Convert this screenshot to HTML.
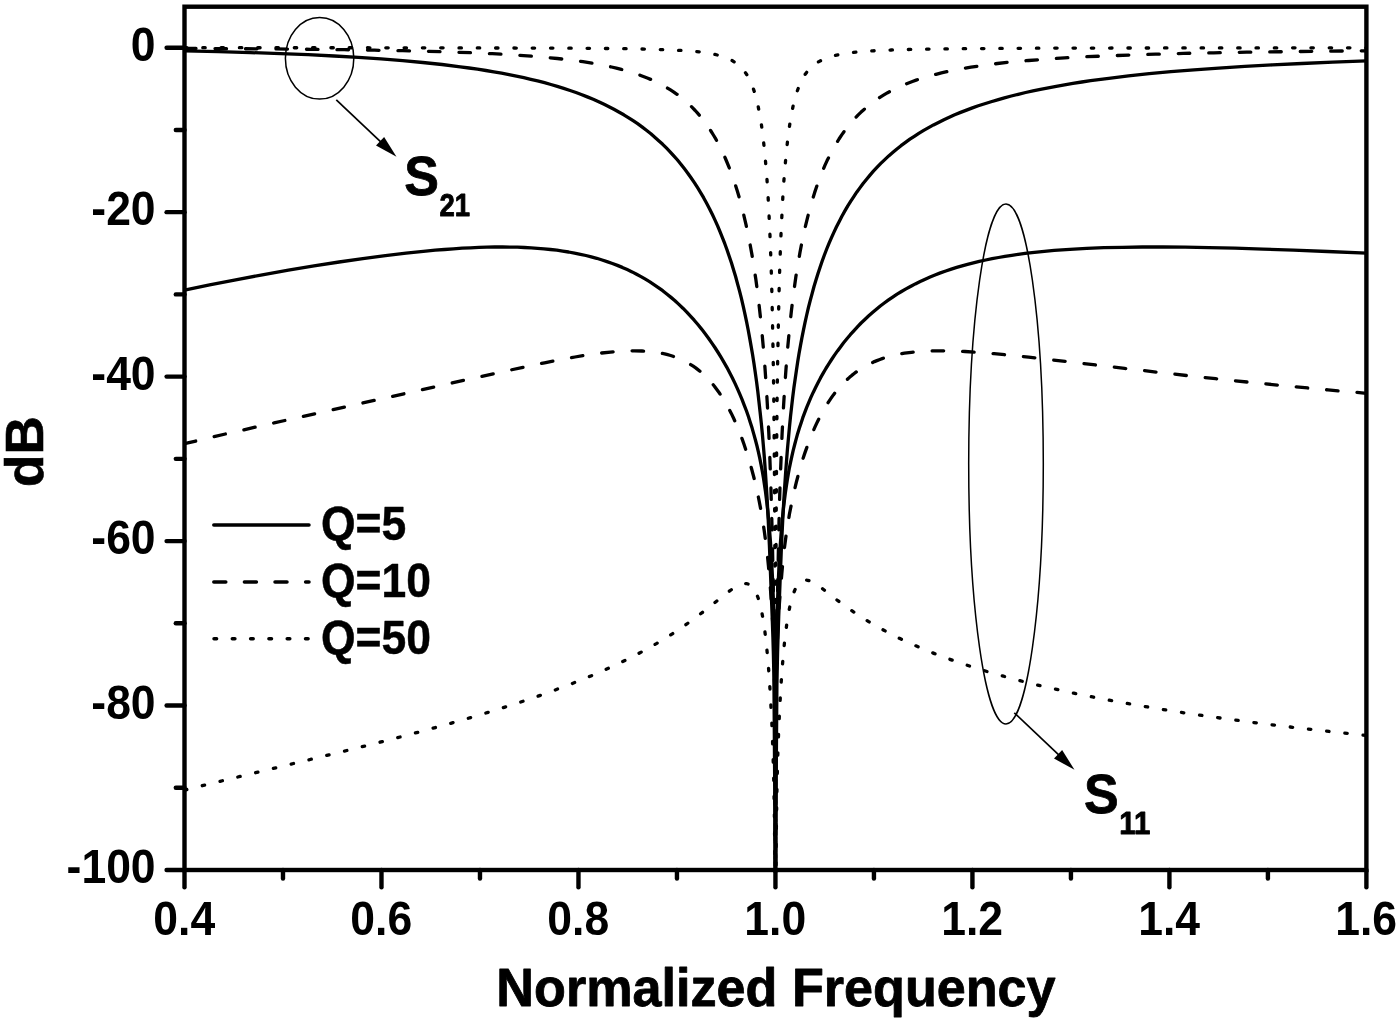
<!DOCTYPE html>
<html lang="en"><head><meta charset="utf-8"><title>Normalized Frequency response</title>
<style>html,body{margin:0;padding:0;background:#fff}body{width:1400px;height:1022px;overflow:hidden}svg{display:block}text{font-family:"Liberation Sans", sans-serif;font-weight:700;fill:#000}</style></head><body>
<svg width="1400" height="1022" viewBox="0 0 1400 1022" role="img" aria-label="S21 and S11 in dB versus normalized frequency for Q=5, 10 and 50">
<rect x="0" y="0" width="1400" height="1022" fill="#fff"/>
<defs><clipPath id="pc"><rect x="184.5" y="6.7" width="1181.9" height="865.5"/></clipPath></defs>
<g clip-path="url(#pc)" fill="none" stroke="#000" stroke-width="3.3" stroke-linecap="round" stroke-linejoin="round">
<path d="M184.5,50.8 218.5,51.6 250.5,52.6 280.5,53.6 308.1,54.7 334.2,56.0 358.3,57.4 381.0,58.9 402.7,60.7 422.8,62.5 442.1,64.5 460.3,66.8 469.1,68.0 477.5,69.2 485.9,70.5 493.8,71.8 501.6,73.2 509.0,74.6 516.4,76.1 523.8,77.7 530.7,79.3 537.6,80.9 544.5,82.7 550.9,84.5 557.3,86.4 563.7,88.4 570.1,90.5 576.0,92.5 581.9,94.7 587.3,96.9 593.2,99.3 598.7,101.7 604.1,104.3 609.0,106.7 613.9,109.3 618.8,112.0 623.8,114.8 628.7,117.8 633.1,120.7 637.6,123.7 642.0,126.9 646.4,130.3 650.9,133.8 654.8,137.2 658.7,140.7 662.7,144.3 666.6,148.2 670.1,151.8 674.0,156.1 677.5,160.0 680.9,164.2 684.3,168.6 687.8,173.2 691.2,178.0 694.7,183.1 697.6,187.7 700.6,192.6 703.6,197.7 706.5,203.0 709.5,208.7 712.4,214.6 714.9,219.9 717.5,225.6 720.0,231.7 722.3,237.4 724.8,243.7 727.0,249.7 729.2,256.3 731.5,263.0 733.6,269.9 735.6,276.5 737.5,283.6 739.5,290.9 741.4,298.4 743.2,306.1 744.9,313.9 746.6,321.9 748.2,330.0 749.6,337.6 751.1,346.1 752.6,354.8 754.0,363.7 755.3,372.8 756.6,382.0 757.8,391.5 758.9,401.3 760.1,412.0 761.3,423.1 762.4,434.5 763.4,446.2 764.4,458.2 765.3,470.5 767.0,496.4 768.2,519.5 769.4,545.2 772.2,617.5 772.9,637.0 773.4,654.4 773.8,672.5 774.0,686.6 774.2,714.6 774.8,799.0 775.1,902.9 775.8,902.9 776.1,797.0 776.4,752.1 776.7,711.5 776.9,685.3 777.2,669.8 777.6,651.8 778.1,634.6 778.7,616.7 781.5,544.9 782.7,520.6 783.9,498.6 785.6,473.0 787.4,449.7 789.4,427.7 790.5,416.7 791.6,406.9 792.7,397.2 793.9,387.8 796.4,370.4 797.7,361.7 799.0,353.8 800.5,345.4 801.9,337.9 803.5,329.9 805.0,322.7 806.7,315.0 808.4,307.6 810.2,300.7 812.1,293.6 814.0,286.5 815.9,280.2 818.0,273.5 820.0,267.4 822.2,261.0 824.3,255.2 826.7,249.0 829.1,243.1 831.6,237.4 834.1,231.9 836.5,226.8 839.5,220.9 841.9,216.2 844.9,210.9 847.8,205.9 850.8,201.1 853.8,196.6 856.7,192.2 859.7,188.1 863.1,183.5 866.6,179.2 870.0,175.1 873.4,171.2 877.4,166.9 880.8,163.4 884.8,159.6 888.7,155.9 892.7,152.5 896.6,149.2 901.0,145.7 905.5,142.4 909.9,139.2 914.3,136.3 918.8,133.4 923.7,130.4 928.6,127.6 933.5,124.9 938.5,122.4 943.9,119.7 949.3,117.2 954.7,114.8 960.6,112.4 966.5,110.1 972.4,107.9 978.3,105.8 984.7,103.7 991.1,101.7 997.5,99.8 1004.4,97.8 1011.3,96.0 1018.2,94.3 1025.6,92.5 1033.0,90.9 1040.4,89.3 1048.3,87.8 1056.2,86.3 1064.5,84.8 1072.9,83.4 1081.8,82.0 1090.6,80.7 1108.8,78.3 1128.5,75.9 1149.2,73.7 1170.9,71.7 1194.0,69.8 1218.7,68.1 1244.8,66.4 1272.3,64.9 1301.9,63.5 1332.9,62.2 1366.4,60.9"/>
<path d="M184.5,290.1 209.6,284.9 235.7,279.8 262.3,274.8 288.4,270.2 314.0,265.9 339.1,262.0 362.8,258.6 385.4,255.6 406.1,253.1 425.8,251.1 435.2,250.2 444.5,249.5 453.4,248.8 462.2,248.2 470.6,247.8 479.0,247.4 486.9,247.2 494.7,247.0 502.6,247.0 510.0,247.1 517.4,247.2 524.3,247.5 531.2,247.8 537.6,248.3 544.0,248.8 550.4,249.5 556.8,250.2 562.7,251.1 568.6,252.0 574.5,253.1 580.4,254.3 585.9,255.5 591.3,256.9 596.7,258.3 602.1,260.0 607.0,261.6 612.4,263.5 617.4,265.4 622.3,267.4 627.2,269.6 632.1,271.9 636.6,274.2 641.0,276.6 645.4,279.2 649.9,281.9 654.3,284.8 658.7,287.8 662.7,290.7 667.1,294.2 671.0,297.4 675.0,300.8 678.9,304.4 682.9,308.2 686.8,312.2 690.7,316.4 694.2,320.2 698.1,324.8 701.6,329.1 705.0,333.5 708.5,338.2 711.9,343.1 714.9,347.5 718.1,352.5 721.1,357.4 724.0,362.3 727.0,367.6 729.7,372.7 732.4,378.0 735.0,383.4 737.5,388.9 739.8,394.1 742.1,399.6 744.3,405.3 746.5,411.0 748.5,416.7 750.3,422.4 752.1,428.1 753.8,434.1 755.5,440.2 757.0,446.0 758.5,452.3 759.8,458.4 761.1,465.0 762.3,471.3 763.5,478.2 764.5,484.9 765.5,491.7 766.3,498.2 767.9,511.8 769.3,526.8 770.5,542.3 771.5,558.7 772.4,576.2 773.4,600.5 774.1,623.4 774.5,640.1 774.7,657.9 775.0,676.9 775.1,699.9 775.3,770.2 775.4,902.9 775.5,902.9 775.6,784.9 775.8,707.7 775.9,682.8 776.1,663.6 776.3,646.1 776.7,629.0 777.3,608.9 778.0,588.2 779.0,565.9 780.0,548.9 781.1,533.7 782.3,519.4 783.7,506.1 785.3,493.3 786.3,486.6 787.3,480.1 788.3,474.1 789.4,467.8 790.6,462.1 791.9,456.1 793.2,450.3 794.7,444.5 796.2,438.9 797.7,433.4 799.4,428.0 801.1,422.9 802.8,417.7 804.7,412.6 806.7,407.4 808.8,402.4 810.9,397.4 813.2,392.4 815.6,387.5 818.0,382.7 820.5,377.9 823.2,373.1 825.9,368.5 828.8,363.9 831.6,359.5 834.5,355.1 837.5,350.9 840.5,346.9 843.4,343.0 846.9,338.8 850.3,334.7 853.8,330.8 857.2,327.1 861.1,323.0 864.6,319.7 868.5,316.0 872.5,312.5 876.4,309.2 880.3,306.0 884.3,303.0 888.2,300.2 892.7,297.1 897.1,294.2 901.5,291.5 906.0,288.9 910.9,286.2 915.3,283.9 920.2,281.5 925.2,279.2 930.1,277.0 935.0,275.0 940.4,272.9 945.8,271.0 951.3,269.1 956.7,267.4 962.1,265.8 967.5,264.3 973.4,262.8 979.3,261.4 985.7,260.0 992.1,258.7 998.5,257.5 1004.9,256.4 1011.8,255.3 1018.2,254.3 1025.1,253.4 1032.0,252.6 1039.4,251.8 1054.2,250.4 1069.9,249.3 1086.7,248.4 1103.9,247.7 1122.6,247.3 1142.3,247.0 1163.0,247.0 1185.2,247.2 1208.8,247.6 1234.9,248.2 1263.0,249.1 1293.5,250.2 1327.5,251.5 1366.4,253.1"/>
<path d="M184.5,48.4 272.7,48.9 310.1,49.3 344.1,49.7 374.6,50.2 402.7,50.7 428.3,51.3 451.4,52.0 472.6,52.8 492.3,53.7 510.5,54.7 527.3,55.8 543.0,57.1 557.3,58.5 570.6,60.0 582.9,61.7 594.7,63.6 600.6,64.7 606.0,65.8 611.5,67.0 616.4,68.1 621.3,69.4 626.2,70.7 631.2,72.2 635.6,73.6 640.0,75.2 644.0,76.7 647.9,78.2 651.8,79.9 655.8,81.8 659.7,83.7 663.2,85.6 666.6,87.5 670.1,89.7 673.5,91.9 677.0,94.3 679.9,96.5 683.4,99.3 686.3,101.8 689.3,104.5 692.2,107.4 695.2,110.5 697.6,113.2 700.6,116.7 703.1,119.8 705.5,123.1 708.0,126.5 710.9,131.0 713.4,135.0 715.9,139.2 718.1,143.3 720.5,147.9 722.8,152.6 725.0,157.5 727.3,163.0 729.4,168.2 731.6,174.0 733.6,179.6 735.5,185.4 737.4,191.3 739.2,197.4 741.0,204.0 742.7,210.7 744.3,217.3 745.9,224.1 747.5,231.7 749.0,238.8 750.4,246.2 751.9,254.4 753.2,262.1 754.5,270.8 755.8,279.1 757.0,288.0 759.2,306.1 761.3,325.2 763.2,346.1 764.8,365.4 766.3,386.7 767.6,409.1 768.8,432.8 769.8,456.8 770.8,483.4 771.6,511.8 772.4,542.3 774.1,631.2 774.4,654.8 774.6,675.8 774.8,714.7 775.0,771.9 775.3,905.2 775.6,905.2 775.9,764.7 776.1,704.3 776.3,670.1 776.5,649.4 776.9,627.9 778.6,539.9 779.3,509.7 780.1,482.9 781.1,457.6 782.1,433.8 783.3,410.3 784.6,389.0 786.0,368.8 787.5,349.7 789.4,329.7 791.4,310.8 793.6,292.9 795.9,276.6 797.3,268.0 798.6,260.4 800.0,252.3 801.4,245.0 803.0,237.3 804.4,230.5 806.0,223.8 807.6,217.3 809.4,210.4 811.1,204.2 812.9,198.3 814.7,192.4 816.6,186.8 818.5,181.3 820.5,176.0 822.7,170.6 824.9,165.4 827.1,160.6 829.4,156.0 831.7,151.5 834.1,147.1 836.5,143.0 839.0,139.0 841.9,134.6 844.4,131.1 846.9,127.8 849.3,124.8 852.3,121.3 855.2,118.0 858.2,114.9 861.1,112.1 864.1,109.4 867.0,106.8 870.5,104.1 873.4,101.8 876.9,99.4 880.3,97.1 884.3,94.7 887.7,92.7 891.7,90.6 895.6,88.6 899.5,86.7 903.5,85.0 907.9,83.2 912.4,81.5 916.8,79.9 921.2,78.5 926.1,77.0 931.1,75.6 936.0,74.3 941.4,72.9 946.8,71.7 952.7,70.4 958.6,69.3 964.6,68.2 971.0,67.2 983.8,65.3 997.5,63.5 1012.3,61.9 1028.6,60.5 1045.8,59.1 1064.5,57.9 1084.7,56.8 1106.4,55.9 1130.0,55.0 1155.6,54.2 1183.2,53.4 1213.7,52.8 1246.7,52.2 1283.2,51.7 1323.1,51.2 1366.4,50.8" stroke-dasharray="11.5 19"/>
<path d="M184.5,443.7 204.2,439.0 225.4,434.0 274.1,422.9 471.6,378.6 504.1,371.4 532.7,365.2 544.5,362.8 555.3,360.7 565.7,358.7 575.0,357.0 583.9,355.5 591.8,354.4 601.6,353.0 610.5,352.1 619.3,351.3 627.2,350.9 634.6,350.8 642.0,351.0 645.4,351.2 648.9,351.4 652.3,351.8 655.3,352.2 658.7,352.7 661.7,353.3 664.6,353.9 667.6,354.7 670.6,355.5 673.0,356.3 676.0,357.4 678.4,358.3 680.9,359.4 683.4,360.5 685.8,361.8 688.3,363.2 690.7,364.6 693.2,366.2 695.7,367.9 697.6,369.4 700.6,371.8 703.6,374.4 706.5,377.3 709.0,379.9 711.9,383.2 714.4,386.2 716.8,389.4 719.4,393.0 721.9,396.8 724.4,400.8 726.8,404.9 729.1,409.1 731.3,413.4 733.6,418.3 735.7,422.9 737.9,428.0 740.0,433.3 742.1,438.9 744.0,444.3 746.0,450.3 747.9,456.3 749.8,462.4 751.5,468.5 753.3,475.2 754.9,481.5 756.5,488.4 757.9,494.8 759.3,501.8 760.7,508.9 762.0,516.1 763.1,523.3 764.2,530.4 766.0,543.7 767.6,557.2 768.9,570.5 770.5,589.5 771.6,605.5 772.6,620.6 773.3,635.9 773.9,652.4 774.3,666.7 774.5,682.9 775.0,731.0 775.2,786.9 775.4,902.9 775.5,902.9 775.6,804.4 775.9,737.0 776.1,708.9 776.3,684.9 776.6,668.6 777.0,654.2 777.5,638.4 778.2,623.6 779.0,609.1 780.1,594.3 781.8,573.8 782.9,561.5 784.4,548.1 786.1,535.3 787.1,528.3 788.3,521.3 789.4,514.3 790.7,507.8 792.0,501.3 793.3,494.9 794.8,488.6 796.3,482.4 797.9,476.3 799.5,470.2 801.3,464.2 803.0,458.5 804.9,452.9 806.9,447.2 808.8,442.0 810.8,436.8 812.9,431.8 814.9,427.2 817.1,422.4 819.3,418.0 821.5,413.9 823.8,409.8 826.1,405.8 828.6,401.9 831.1,398.2 833.4,394.9 836.0,391.5 838.5,388.6 840.9,385.8 843.9,382.6 846.9,379.8 849.8,377.1 851.8,375.4 854.2,373.5 856.7,371.6 859.2,369.9 861.6,368.3 864.1,366.9 866.6,365.5 869.0,364.2 871.5,363.0 874.4,361.6 876.9,360.6 879.9,359.5 882.8,358.4 885.8,357.5 891.7,355.8 898.1,354.4 904.5,353.2 911.4,352.3 918.8,351.6 926.6,351.1 934.5,350.8 943.4,350.8 952.7,351.0 965.0,351.5 978.8,352.4 994.1,353.7 1011.3,355.4 1028.6,357.2 1048.8,359.5 1124.6,368.4 1158.1,372.3 1187.1,375.6 1215.7,378.7 1252.6,382.6 1290.1,386.3 1328.0,389.9 1366.4,393.3" stroke-dasharray="11.5 19"/>
<path d="M184.5,47.7 429.3,47.8 501.2,48.0 554.3,48.1 595.2,48.4 626.7,48.7 651.4,49.2 661.7,49.6 671.0,49.9 679.9,50.4 687.8,50.9 695.2,51.5 701.6,52.2 707.5,53.1 712.4,53.9 717.3,55.0 721.7,56.2 725.7,57.6 729.2,59.1 732.6,60.8 734.1,61.8 735.7,62.8 737.2,63.9 738.5,65.0 741.0,67.3 742.3,68.6 743.4,70.0 745.6,72.9 747.0,75.0 748.3,77.3 749.6,79.8 750.8,82.2 752.0,85.1 753.0,87.9 754.1,90.9 755.1,94.1 756.0,97.5 757.0,101.2 757.9,105.1 758.7,109.3 760.4,118.3 761.9,127.9 763.3,139.2 764.6,151.4 765.8,164.6 767.0,179.6 768.0,194.9 768.9,212.3 769.8,231.2 770.6,251.4 771.3,271.8 771.9,293.6 772.4,316.8 772.9,343.2 773.4,369.8 773.8,400.0 774.4,466.1 774.8,537.2 775.3,659.7 775.4,902.9 775.5,902.9 775.5,741.1 775.7,653.3 776.1,534.9 776.5,464.2 777.1,398.5 777.5,370.1 778.0,343.5 778.5,317.3 779.0,294.1 779.6,272.4 780.3,252.0 781.1,231.9 782.0,213.2 782.9,195.8 783.9,180.6 785.1,165.8 786.3,152.6 787.6,140.5 789.0,129.3 790.5,119.7 792.2,110.7 793.0,106.5 793.9,102.6 794.9,99.0 795.8,95.5 796.8,92.3 798.0,89.0 799.1,86.1 800.3,83.3 801.4,80.9 802.7,78.4 804.0,76.1 805.4,74.0 806.6,72.4 807.7,70.9 808.9,69.5 810.2,68.2 811.4,67.0 812.9,65.7 814.2,64.7 815.7,63.6 817.3,62.5 818.9,61.6 822.2,59.9 825.9,58.3 830.0,56.9 834.5,55.6 839.5,54.6 844.9,53.6 850.8,52.8 857.2,52.0 864.6,51.4 873.0,50.8 881.8,50.4 891.2,50.0 902.0,49.6 927.6,49.1 960.1,48.7 1002.5,48.4 1057.1,48.1 1130.0,48.0 1366.4,47.8" stroke-dasharray="2.4 15.9"/>
<path d="M184.5,790.1 223.4,780.5 310.1,759.5 348.5,750.1 369.2,744.9 388.4,740.1 406.6,735.3 423.8,730.7 443.0,725.5 461.3,720.3 478.5,715.3 494.7,710.3 510.5,705.4 525.8,700.3 540.5,695.3 554.3,690.3 567.6,685.3 580.4,680.3 592.3,675.4 604.1,670.3 615.4,665.1 626.2,659.9 636.6,654.6 646.4,649.3 656.8,643.4 666.6,637.5 676.0,631.5 685.3,625.1 692.2,620.1 699.6,614.6 708.0,608.1 725.2,594.3 729.7,590.9 733.4,588.3 735.6,587.0 737.5,585.9 739.3,585.1 741.0,584.4 742.7,583.9 744.2,583.7 745.6,583.6 747.0,583.7 747.9,584.0 748.9,584.3 749.8,584.8 750.6,585.4 751.5,586.1 752.3,586.9 753.0,587.7 753.8,588.8 755.3,591.2 756.7,594.3 758.1,597.8 759.3,601.8 760.5,606.4 761.7,611.9 762.8,617.5 763.8,624.2 764.9,631.5 765.8,639.3 766.7,647.7 767.6,656.6 768.4,666.3 769.2,676.5 769.9,687.8 770.6,699.5 771.9,724.4 772.9,750.8 773.8,782.0 774.4,815.9 774.8,855.4 775.1,903.4 775.1,903.5 775.8,903.5 776.0,856.4 776.5,818.6 777.0,785.0 777.8,755.1 778.3,740.3 778.9,726.0 779.5,712.1 780.2,699.3 780.9,686.9 781.7,674.8 782.6,663.2 783.5,652.8 784.4,643.4 785.4,634.6 786.4,626.9 787.4,619.8 788.5,613.2 789.7,607.2 790.9,601.8 792.2,597.3 793.5,593.3 795.0,589.7 796.4,587.0 797.2,585.7 798.0,584.5 798.8,583.5 799.6,582.7 800.5,582.0 801.4,581.4 802.3,580.9 803.4,580.5 804.3,580.3 805.4,580.2 806.5,580.2 807.6,580.3 808.8,580.6 809.9,580.9 811.3,581.5 812.5,582.1 815.4,583.7 818.3,585.6 821.7,588.0 835.5,598.9 843.4,604.8 851.3,610.4 859.2,615.6 864.1,618.7 869.0,621.8 873.9,624.7 878.9,627.5 883.8,630.2 889.2,633.1 894.6,635.9 900.0,638.6 905.5,641.2 911.4,643.9 922.7,648.8 934.5,653.6 940.9,656.1 947.3,658.4 960.6,663.1 974.4,667.6 988.7,672.0 1003.5,676.2 1019.7,680.6 1036.9,684.9 1055.2,689.1 1073.9,693.2 1093.6,697.2 1113.8,701.1 1134.9,704.8 1156.6,708.5 1179.8,712.2 1203.4,715.7 1228.0,719.1 1253.6,722.5 1280.2,725.8 1307.8,729.1 1336.4,732.3 1366.4,735.4" stroke-dasharray="2.4 15.9"/>
</g>
<rect x="184.5" y="6.7" width="1181.9" height="863.3" fill="none" stroke="#000" stroke-width="4.4"/>
<g stroke="#000" stroke-width="4.4" stroke-linecap="round">
<line x1="166.6" y1="47.70" x2="184.5" y2="47.70"/>
<line x1="175.8" y1="129.93" x2="184.5" y2="129.93"/>
<line x1="166.6" y1="212.16" x2="184.5" y2="212.16"/>
<line x1="175.8" y1="294.39" x2="184.5" y2="294.39"/>
<line x1="166.6" y1="376.62" x2="184.5" y2="376.62"/>
<line x1="175.8" y1="458.85" x2="184.5" y2="458.85"/>
<line x1="166.6" y1="541.08" x2="184.5" y2="541.08"/>
<line x1="175.8" y1="623.31" x2="184.5" y2="623.31"/>
<line x1="166.6" y1="705.54" x2="184.5" y2="705.54"/>
<line x1="175.8" y1="787.77" x2="184.5" y2="787.77"/>
<line x1="166.6" y1="870.00" x2="184.5" y2="870.00"/>
<line x1="184.50" y1="870.0" x2="184.50" y2="887.2"/>
<line x1="282.99" y1="870.0" x2="282.99" y2="878.5"/>
<line x1="381.48" y1="870.0" x2="381.48" y2="887.2"/>
<line x1="479.98" y1="870.0" x2="479.98" y2="878.5"/>
<line x1="578.47" y1="870.0" x2="578.47" y2="887.2"/>
<line x1="676.96" y1="870.0" x2="676.96" y2="878.5"/>
<line x1="775.45" y1="870.0" x2="775.45" y2="887.2"/>
<line x1="873.94" y1="870.0" x2="873.94" y2="878.5"/>
<line x1="972.43" y1="870.0" x2="972.43" y2="887.2"/>
<line x1="1070.93" y1="870.0" x2="1070.93" y2="878.5"/>
<line x1="1169.42" y1="870.0" x2="1169.42" y2="887.2"/>
<line x1="1267.91" y1="870.0" x2="1267.91" y2="878.5"/>
<line x1="1366.40" y1="870.0" x2="1366.40" y2="887.2"/>
</g>
<text transform="translate(155.6 60.7) scale(0.915 1)" font-size="48.6px" text-anchor="end">0</text>
<text transform="translate(155.6 225.2) scale(0.915 1)" font-size="48.6px" text-anchor="end">-20</text>
<text transform="translate(155.6 389.6) scale(0.915 1)" font-size="48.6px" text-anchor="end">-40</text>
<text transform="translate(155.6 554.1) scale(0.915 1)" font-size="48.6px" text-anchor="end">-60</text>
<text transform="translate(155.6 718.5) scale(0.915 1)" font-size="48.6px" text-anchor="end">-80</text>
<text transform="translate(155.6 883.0) scale(0.915 1)" font-size="48.6px" text-anchor="end">-100</text>
<text transform="translate(184.2 935.2) scale(0.915 1)" font-size="48.6px" text-anchor="middle">0.4</text>
<text transform="translate(381.2 935.2) scale(0.915 1)" font-size="48.6px" text-anchor="middle">0.6</text>
<text transform="translate(578.2 935.2) scale(0.915 1)" font-size="48.6px" text-anchor="middle">0.8</text>
<text transform="translate(775.2 935.2) scale(0.915 1)" font-size="48.6px" text-anchor="middle">1.0</text>
<text transform="translate(972.1 935.2) scale(0.915 1)" font-size="48.6px" text-anchor="middle">1.2</text>
<text transform="translate(1169.1 935.2) scale(0.915 1)" font-size="48.6px" text-anchor="middle">1.4</text>
<text transform="translate(1366.1 935.2) scale(0.915 1)" font-size="48.6px" text-anchor="middle">1.6</text>
<text transform="translate(776.0 1005.8) scale(0.986 1)" font-size="52.9px" text-anchor="middle" stroke="#000" stroke-width="0.8" stroke-linejoin="round">Normalized Frequency</text>
<text transform="translate(43.1 451.6) rotate(-90)" font-size="53px" text-anchor="middle" stroke="#000" stroke-width="0.6">dB</text>
<g fill="none" stroke="#000" stroke-width="3.5" stroke-linecap="round">
<line x1="213.8" y1="525" x2="309" y2="525"/>
<line x1="213.8" y1="582" x2="309" y2="582" stroke-dasharray="12 18.6"/>
<line x1="214" y1="638.8" x2="309" y2="638.8" stroke-dasharray="2.6 15.7"/>
</g>
<text transform="translate(320.9 540.3) scale(0.926 1)" font-size="48px" text-anchor="start" stroke="#000" stroke-width="0.5" stroke-linejoin="round">Q=5</text>
<text transform="translate(320.9 597.3) scale(0.926 1)" font-size="48px" text-anchor="start" stroke="#000" stroke-width="0.5" stroke-linejoin="round">Q=10</text>
<text transform="translate(320.9 654.0) scale(0.926 1)" font-size="48px" text-anchor="start" stroke="#000" stroke-width="0.5" stroke-linejoin="round">Q=50</text>
<g fill="none" stroke="#000" stroke-width="1.5">
<ellipse cx="319.6" cy="58.3" rx="34.2" ry="40.8"/>
<ellipse cx="1006" cy="464" rx="37.3" ry="260"/>
</g>
<line x1="336.3" y1="99.8" x2="381.53" y2="142.55" stroke="#000" stroke-width="1.7"/><polygon points="396.5,156.7 376.02,145.46 384.13,136.89" fill="#000"/>
<line x1="1014.3" y1="712.8" x2="1059.54" y2="755.64" stroke="#000" stroke-width="1.7"/><polygon points="1074.5,769.8 1054.03,758.55 1062.15,749.98" fill="#000"/>
<text transform="translate(404.3 195.0) scale(0.935 1)" font-size="55.6px" text-anchor="start" stroke="#000" stroke-width="0.8" stroke-linejoin="round">S</text>
<text transform="translate(439.5 216.0) scale(0.86 1)" font-size="32.0px" text-anchor="start" stroke="#000" stroke-width="0.9" stroke-linejoin="round">21</text>
<text transform="translate(1084.0 812.7) scale(0.935 1)" font-size="55.6px" text-anchor="start" stroke="#000" stroke-width="0.8" stroke-linejoin="round">S</text>
<text transform="translate(1119.2 834.0) scale(0.92 1)" font-size="32.0px" text-anchor="start" stroke="#000" stroke-width="0.9" stroke-linejoin="round">11</text>
</svg></body></html>
